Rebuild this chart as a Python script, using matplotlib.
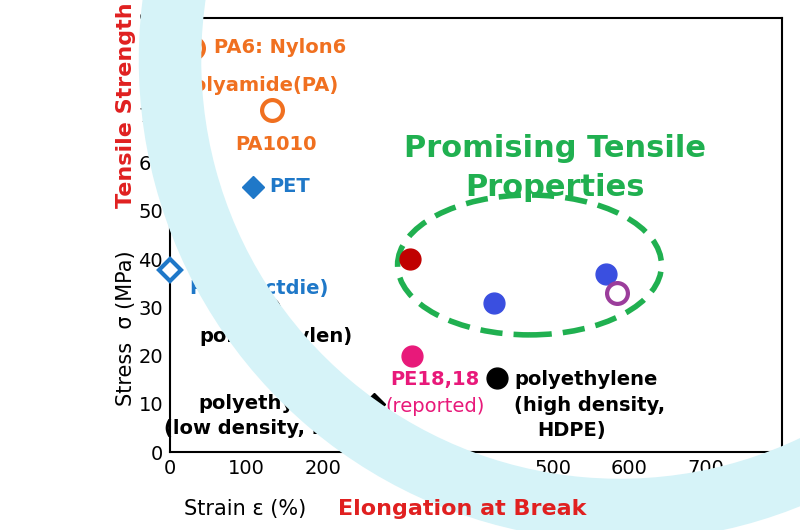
import matplotlib.pyplot as plt
from matplotlib.patches import Ellipse, Arc

# data
names = ['PA6', 'PA1010', 'PET', 'PLA', 'PP', 'PE18,18', 'LDPE', 'HDPE', 'new1', 'new2', 'new3', 'new4']
strain = [30, 133, 108, 0, 128, 316, 267, 427, 314, 424, 570, 584]
stress = [83.8, 71, 55, 37.8, 29.7, 20, 10, 15.4, 40, 31, 37, 33]
markers = ['o', 'o', 'D', 'D', 'o', 'o', 'D', 'o', 'o', 'o', 'o', 'o']
colors = ['#f07020', '#f07020', '#1f78c8', '#1f78c8', 'black', '#e8197a', 'black', 'black',
          '#c00000', '#3a4fe0', '#3a4fe0', '#9b3d9b']
filled = [False, False, True, False, False, True, True, True, True, True, True, False]

fig = plt.figure(figsize=(8, 5.3), dpi=100)
# light cyan arc behind everything (display pixels, origin bottom-left)
arc = Arc((620, 470), 900, 900, theta1=160, theta2=300, transform=None,
          color='#d6f3f8', lw=45, zorder=0)
fig.patches.append(arc)

ax = fig.add_axes([0.2125, 0.147, 0.765, 0.819])
ax.set_facecolor('none')
ax.set_xlim(0, 800)
ax.set_ylim(0, 90)
ax.set_xticks(range(0, 801, 100))
ax.set_yticks(range(0, 91, 10))
ax.tick_params(labelsize=14, length=0, pad=5)
for s in ax.spines.values():
    s.set_linewidth(1.5)

for x, y, m, c, f in zip(strain, stress, markers, colors, filled):
    size = 15 if m == 'o' else 11
    ax.plot(x, y, marker=m, ms=size, mfc=c if f else 'white', mec=c,
            mew=3 if not f else 1, ls='none', clip_on=False, zorder=5)

ax.add_patch(Ellipse((470, 38.8), 345, 29, fill=False, ec='#20b050', lw=4, ls=(0, (4, 2)), zorder=3))

bold = dict(fontsize=14, fontweight='bold')
ax.text(58, 83.8, 'PA6: Nylon6', color='#f07020', va='center', **bold)
ax.text(12, 76, 'polyamide(PA)', color='#f07020', va='center', **bold)
ax.text(85, 63.7, 'PA1010', color='#f07020', va='center', **bold)
ax.text(130, 55, 'PET', color='#1f78c8', va='center', **bold)
ax.text(25, 40.5, 'PLA', color='#1f78c8', va='center', **bold)
ax.text(25, 34, 'Poly(lactdie)', color='#1f78c8', va='center', **bold)
ax.text(38, 24, 'polypropylen)', color='black', va='center', **bold)
ax.text(288, 15, 'PE18,18', color='#e8197a', va='center', **bold)
ax.text(282, 9.5, '(reported)', color='#e8197a', va='center', fontsize=14)
ax.text(131, 10, 'polyethylene', color='black', ha='center', va='center', **bold)
ax.text(131, 4.8, '(low density, LDPE)', color='black', ha='center', va='center', **bold)
ax.text(450, 15, 'polyethylene', color='black', va='center', **bold)
ax.text(450, 9.7, '(high density,', color='black', va='center', **bold)
ax.text(480, 4.5, 'HDPE)', color='black', va='center', **bold)
ax.text(503, 63, 'Promising Tensile', color='#20b050', ha='center', va='center', fontsize=22, fontweight='bold')
ax.text(503, 54.8, 'Properties', color='#20b050', ha='center', va='center', fontsize=22, fontweight='bold')

fig.text(0.157, 0.38, 'Stress  σ (MPa)', rotation=90, ha='center', va='center', fontsize=15)
fig.text(0.157, 0.995, 'Tensile Strength', rotation=90, ha='center', va='top', fontsize=16,
         fontweight='bold', color='#e02020')
fig.text(0.306, 0.04, 'Strain ε (%)', ha='center', va='center', fontsize=15)
fig.text(0.578, 0.04, 'Elongation at Break', ha='center', va='center', fontsize=16,
         fontweight='bold', color='#e02020')

fig.savefig('out.png', dpi=100)
